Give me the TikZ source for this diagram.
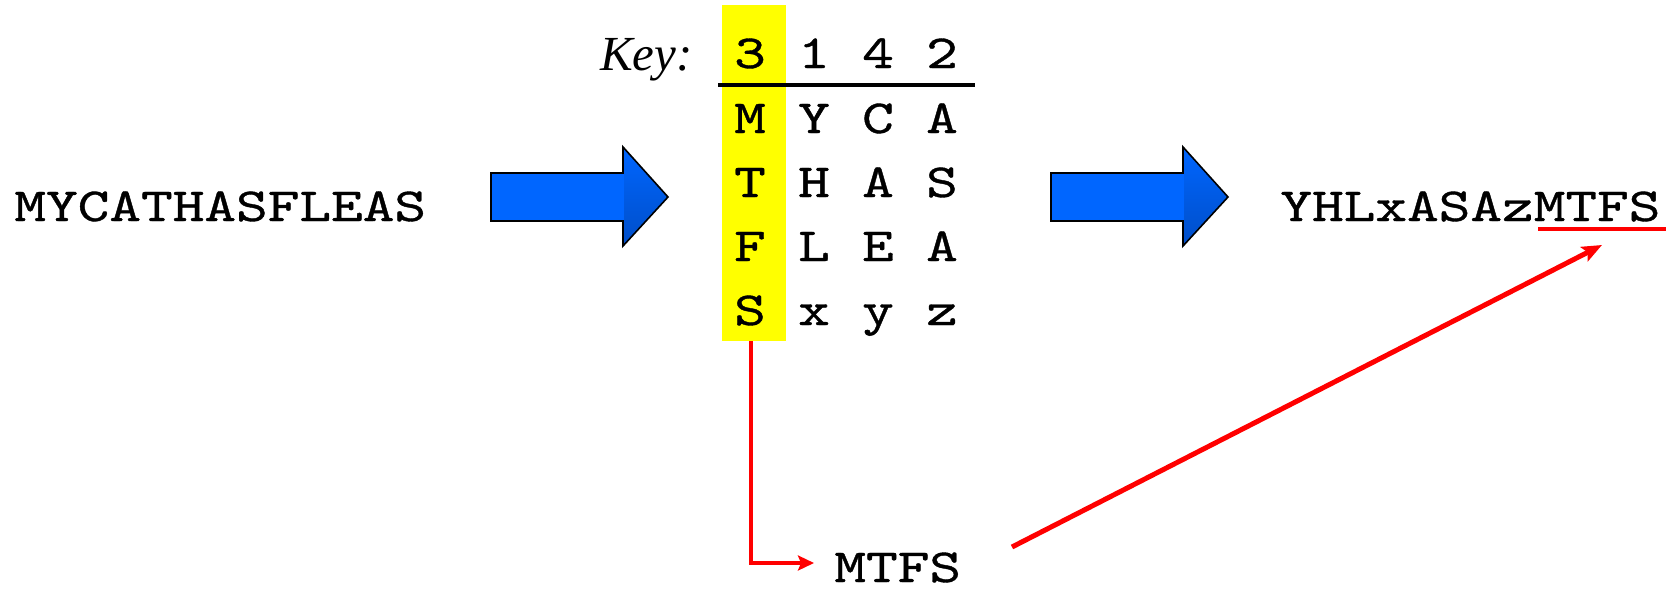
\documentclass[tikz,border=0pt]{standalone}
\usepackage{fontspec}
\usetikzlibrary{arrows.meta,calc}
\newfontfamily\courfont{lmmono10-regular}[Extension=.otf, FakeStretch=1.27, FakeBold=0.8]
\newfontfamily\keyfont{Liberation Serif}
\definecolor{arrowblue}{RGB}{0,102,255}
\definecolor{arrowblueD}{RGB}{0,78,200}
\definecolor{keyyellow}{RGB}{255,255,0}
\definecolor{linkred}{RGB}{255,0,0}
\tikzset{
  mono/.style={font=\courfont\fontsize{23.75pt}{28pt}\selectfont, inner sep=0pt, text=black},
  cell/.style={mono, anchor=base},
  keylabel/.style={font=\keyfont\itshape\fontsize{24.5pt}{28pt}\selectfont, inner sep=0pt, anchor=base east},
  keycolstyle/.style={fill=keyyellow, draw=none, inner sep=0pt, minimum width=32pt, minimum height=168pt, anchor=north west},
  redlink/.style={draw=linkred, line width=1.6pt, -{Stealth[length=8pt,width=7.5pt,inset=1.5pt]}},
  redbig/.style={draw=linkred, line width=2.5pt, -{Stealth[length=10pt,width=8pt,inset=2pt]}},
  redline/.style={draw=linkred, line width=1.75pt},
  bigarrow/.pic={
    \shade[top color=arrowblue, bottom color=arrowblueD] (132,-26) -- (177,24) -- (132,73) -- cycle;
    \fill[arrowblue] (0,0) rectangle (132.5,48);
    \draw[black, line width=0.8pt, line join=miter]
      (0,0) -- (132,0) -- (132,-26) -- (177,24) -- (132,73) -- (132,48) -- (0,48) -- cycle;
  }
}
\begin{document}
\begin{tikzpicture}[x=0.5pt, y=-0.5pt]
\useasboundingbox (0,0) rectangle (1672,590);

% plaintext
\node[mono, anchor=base west] (plain) at (14,221) {MYCATHASFLEAS};

% big blue arrows
\pic at (491,173) {bigarrow};
\pic at (1051,173) {bigarrow};

% key column highlight
\node[keycolstyle] (keycol) at (722,5) {};

% key label and header
\node[keylabel] (keylbl) at (693,70) {Key:};
\node[cell] (h1) at (750,68) {3};
\node[cell] (h2) at (814,68) {1};
\node[cell] (h3) at (878,68) {4};
\node[cell] (h4) at (942,68) {2};
\draw[black, line width=2pt] (718,85) -- (975,85);

% table rows
\foreach \r/\y/\a/\b/\c/\d in {1/133/M/Y/C/A, 2/197/T/H/A/S, 3/261/F/L/E/A, 4/325/S/x/y/z}{
  \node[cell] (r\r c1) at (750,\y) {\a};
  \node[cell] (r\r c2) at (814,\y) {\b};
  \node[cell] (r\r c3) at (878,\y) {\c};
  \node[cell] (r\r c4) at (942,\y) {\d};
}

% ciphertext
\node[mono, anchor=base west] (result) at (1280,221) {YHLxASAzMTFS};
\draw[redline] (1538,229) -- (1666,229);

% extracted column
\node[mono, anchor=base west] (mtfs) at (834,582) {MTFS};

% connectors
\coordinate (colbottom) at (751,341);
\coordinate (lstop) at (814,563);
\draw[redlink] (colbottom) |- (lstop);
\coordinate (dstart) at (1012,547);
\coordinate (dend) at (1602,245);
\draw[redbig] (dstart) -- (dend);
\end{tikzpicture}
\end{document}
